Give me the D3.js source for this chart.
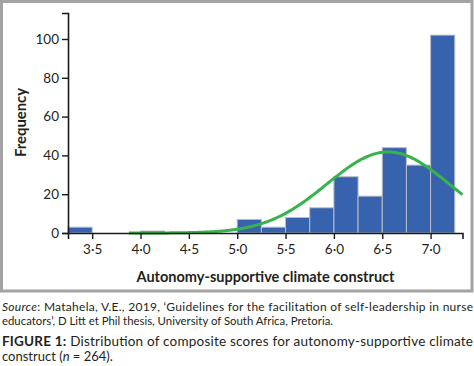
<!DOCTYPE html>
<html>
<head>
<meta charset="utf-8">
<script src="https://cdn.jsdelivr.net/npm/d3@7"></script>
<style>
  html, body { margin: 0; padding: 0; background: #fff; }
  svg { display: block; }
  text { font-family: Lato, "Open Sans", sans-serif; fill: #231f20; }
</style>
</head>
<body>
<svg id="chart" width="474" height="366"></svg>
<script>
// ---- data ----
const binStarts = [3.25, 4.0, 5.0, 5.25, 5.5, 5.75, 6.0, 6.25, 6.5, 6.75, 7.0];
const counts    = [3, 1, 7, 3, 8, 13, 29, 19, 44, 35, 102];
const binWidth  = 0.25;
const xTicks    = [3.5, 4.0, 4.5, 5.0, 5.5, 6.0, 6.5, 7.0];
const yTicks    = [0, 20, 40, 60, 80, 100];
const fitMean   = 6.56;   // fitted normal curve
const fitSd     = 0.63;
const fitN      = 264;
const curveFrom = 3.88, curveTo = 7.33;
const xDomain   = [3.25, 7.33];
const yDomain   = [0, 113.4];

const svg = d3.select("#chart");

// frame
svg.append("rect").attr("x", 1.5).attr("y", 1.5).attr("width", 470.5).attr("height", 289.5)
  .attr("fill", "none").attr("stroke", "#a3a3a3").attr("stroke-width", 3);

const x = d3.scaleLinear().domain(xDomain).range([68, 462.5]);
const y = d3.scaleLinear().domain(yDomain).range([233, 13]);

// bars
const bins = binStarts.map((s, i) => ({ s, c: counts[i] }));
svg.append("g").selectAll("rect").data(bins).join("rect")
  .attr("x", d => x(d.s))
  .attr("width", d => x(d.s + binWidth) - x(d.s))
  .attr("y", d => y(d.c))
  .attr("height", d => y(0) - y(d.c))
  .attr("fill", "#3763ae")
  .attr("stroke", "#b9bcc4")
  .attr("stroke-width", 1);

// normal curve
const pdf = v => fitN * binWidth / (fitSd * Math.sqrt(2 * Math.PI)) *
  Math.exp(-0.5 * Math.pow((v - fitMean) / fitSd, 2));
const pts = d3.range(curveFrom, curveTo + 1e-9, 0.01).map(v => [v, pdf(v)]);
svg.append("path").datum(pts)
  .attr("d", d3.line().x(d => x(d[0])).y(d => y(d[1])).curve(d3.curveBasis))
  .attr("fill", "none").attr("stroke", "#36b34a").attr("stroke-width", 3);

// axes
const fmt = d => d3.format(".1f")(d).replace(".", "\u00B7");
const xAxis = svg.append("g").attr("transform", "translate(0,233)")
  .call(d3.axisBottom(x).tickValues(xTicks).tickFormat(fmt).tickSizeOuter(0).tickSize(6).tickPadding(5));
const yAxis = svg.append("g").attr("transform", "translate(68,0)")
  .call(d3.axisLeft(y).tickValues(yTicks).tickSizeOuter(0).tickSize(6).tickPadding(3));
[xAxis, yAxis].forEach(a => {
  a.select(".domain").attr("stroke", "#1a1a1a").attr("stroke-width", 1.6);
  a.selectAll(".tick line").attr("stroke", "#1a1a1a").attr("stroke-width", 1.4);
  a.selectAll(".tick text").attr("font-family", "Lato, sans-serif").attr("font-size", 13.5).attr("fill", "#231f20");
});

// axis titles
svg.append("text").attr("x", 265.5).attr("y", 282)
  .attr("text-anchor", "middle").attr("font-weight", "bold").attr("font-size", 15.5)
  .attr("textLength", 258).attr("lengthAdjust", "spacingAndGlyphs")
  .text("Autonomy-supportive climate construct");
svg.append("text").attr("transform", "translate(26,122.5) rotate(-90)")
  .attr("text-anchor", "middle").attr("font-weight", "bold").attr("font-size", 14.5)
  .attr("textLength", 69).attr("lengthAdjust", "spacingAndGlyphs")
  .text("Frequency");

// caption
const l1 = svg.append("text").attr("x", 2).attr("y", 311).attr("font-size", 12)
  .attr("textLength", 471).attr("lengthAdjust", "spacing");
l1.append("tspan").attr("font-style", "italic").text("Source");
l1.append("tspan").text(": Matahela, V.E., 2019, \u2018Guidelines for the facilitation of self-leadership in nurse");
svg.append("text").attr("x", 2).attr("y", 325).attr("font-size", 12)
  .attr("textLength", 331).attr("lengthAdjust", "spacingAndGlyphs")
  .text("educators\u2019, D Litt et Phil thesis, University of South Africa, Pretoria.");
const l3 = svg.append("text").attr("x", 2).attr("y", 346).attr("font-size", 13.5)
  .attr("textLength", 471).attr("lengthAdjust", "spacing");
l3.append("tspan").attr("font-weight", "bold").text("FIGURE 1:");
l3.append("tspan").text(" Distribution of composite scores for autonomy-supportive climate");
const l4 = svg.append("text").attr("x", 2).attr("y", 360.5).attr("font-size", 13);
l4.append("tspan").text("construct (");
l4.append("tspan").attr("font-style", "italic").text("n");
l4.append("tspan").text(" = 264).");
</script>
</body>
</html>
